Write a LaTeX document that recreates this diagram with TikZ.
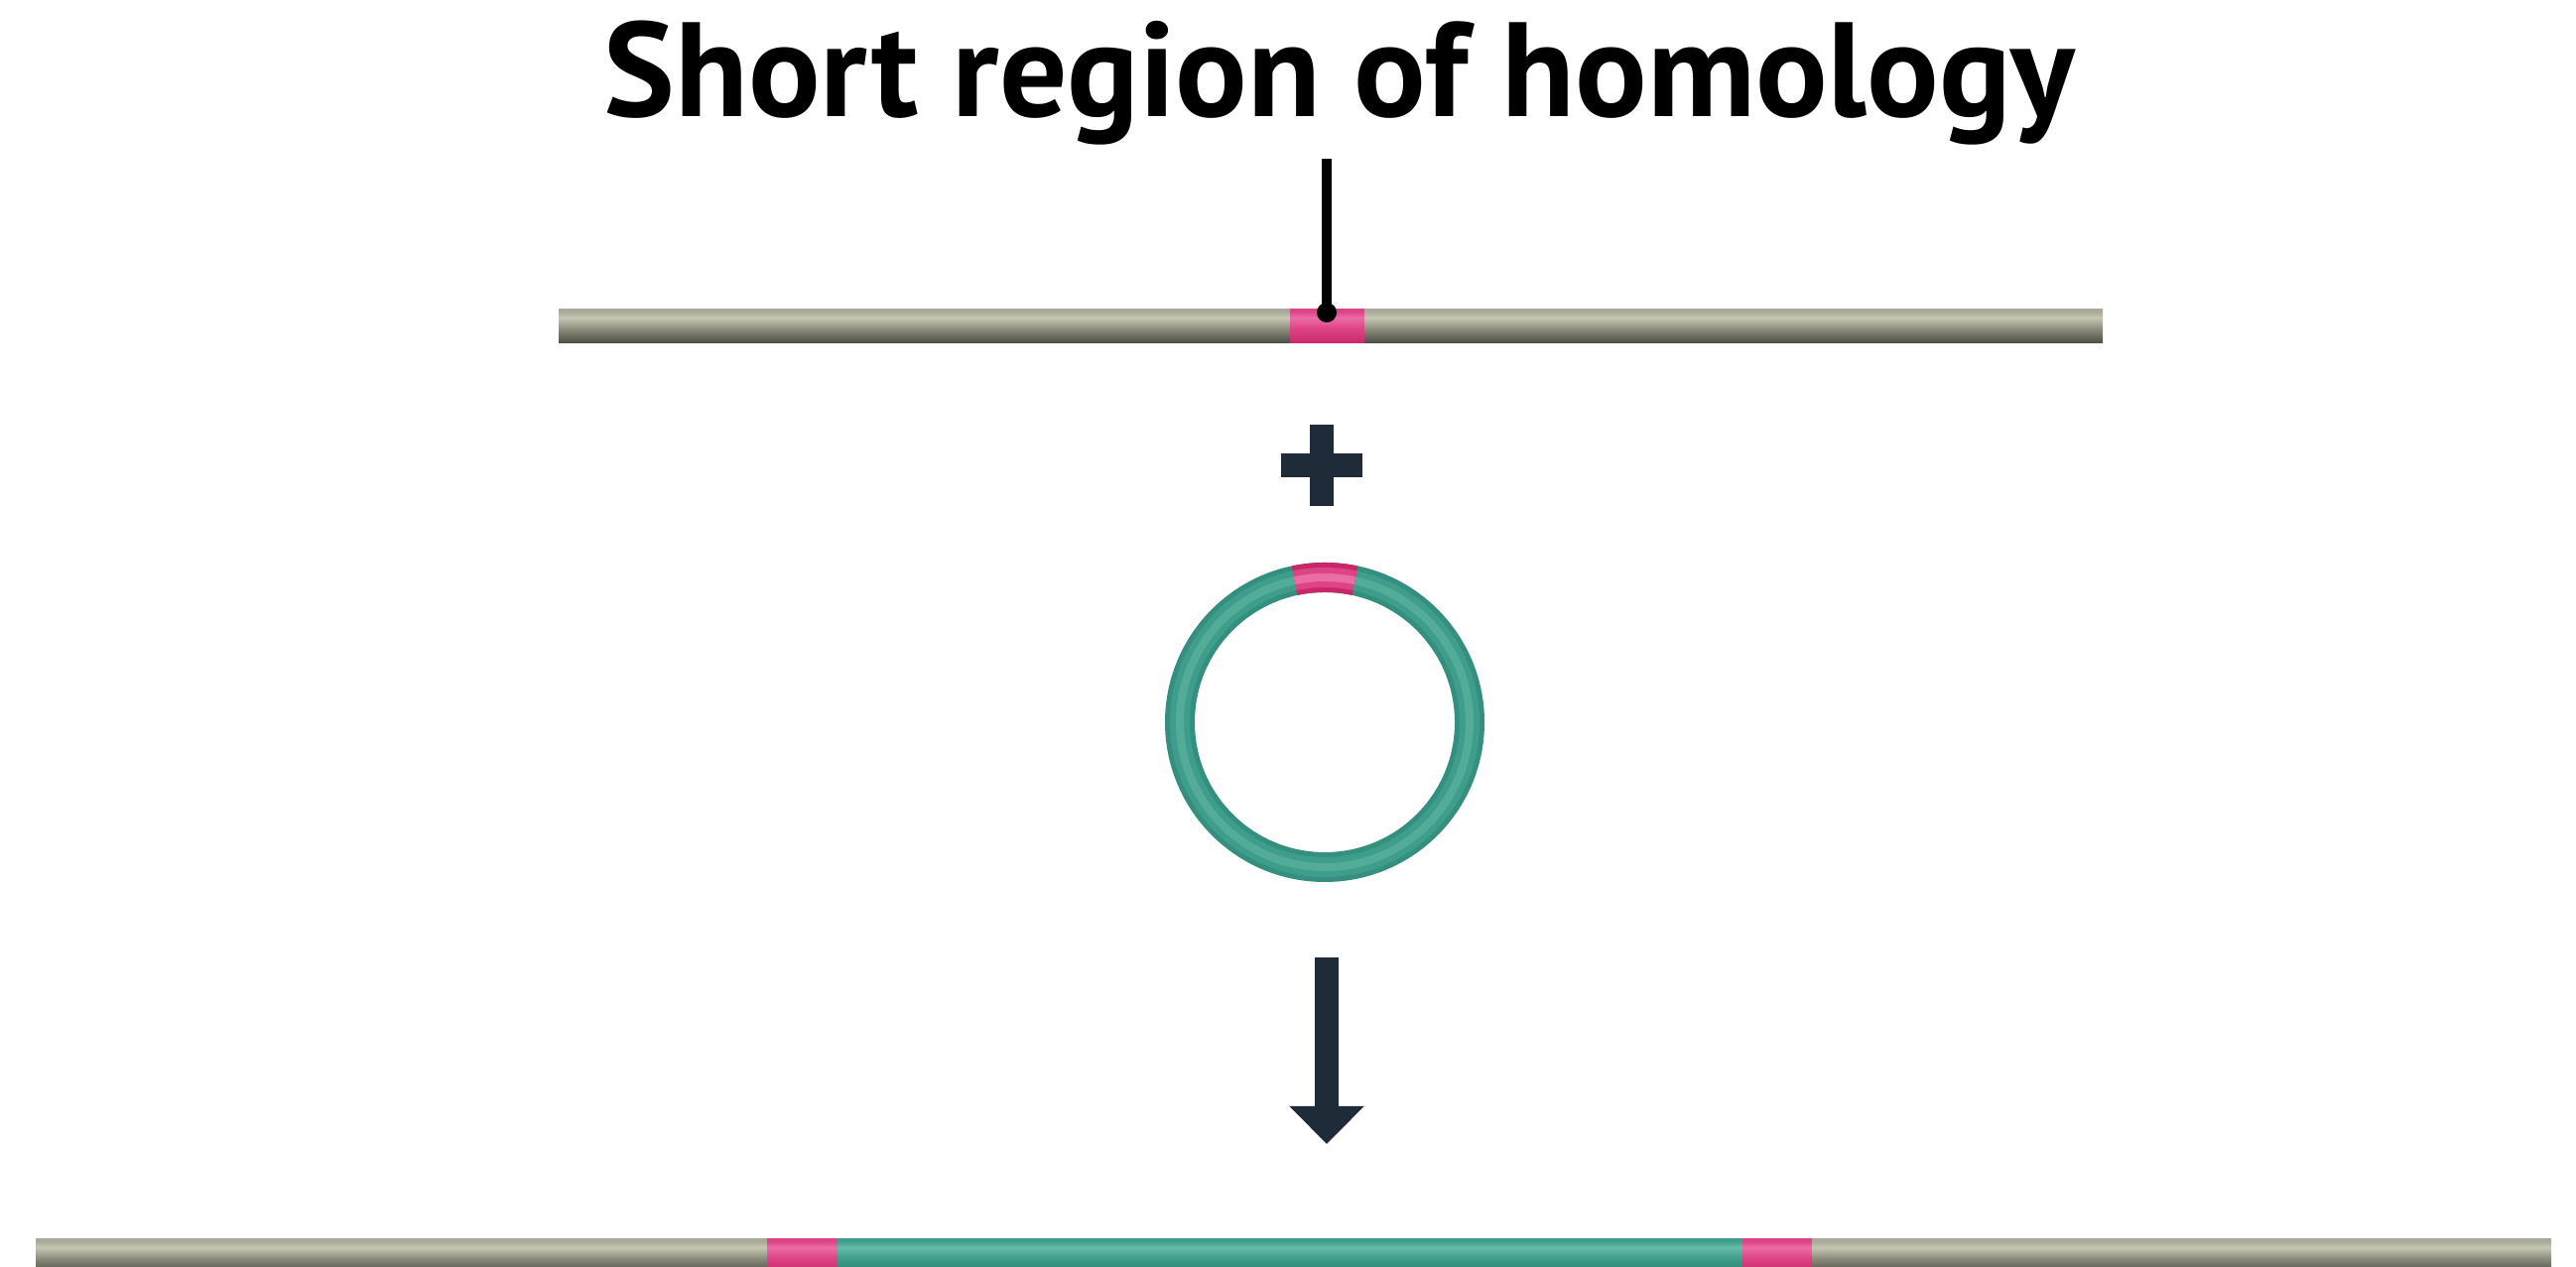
\documentclass[tikz,border=0pt]{standalone}
\usepackage{fontspec}
\setmainfont{PT Sans}
\usetikzlibrary{arrows.meta}

\definecolor{grayD}{HTML}{4B4D43}
\definecolor{grayM}{HTML}{8E8E7E}
\definecolor{grayL}{HTML}{C6C6B2}
\definecolor{grayT}{HTML}{A9AA99}
\definecolor{pinkD}{HTML}{C92868}
\definecolor{pinkM}{HTML}{DD4486}
\definecolor{pinkL}{HTML}{EC6CA4}
\definecolor{tealD}{HTML}{2D8271}
\definecolor{tealM}{HTML}{3F9E8B}
\definecolor{tealL}{HTML}{68BCA8}
\definecolor{ringD}{HTML}{348F7E}
\definecolor{ringL}{HTML}{52AC98}
\definecolor{navy}{HTML}{1F2B38}

\pgfdeclareverticalshading{graybar}{100bp}{color(0bp)=(grayD); color(25bp)=(grayD); color(47bp)=(grayM); color(63bp)=(grayL); color(72bp)=(grayT); color(100bp)=(grayT)}
\pgfdeclareverticalshading{pinkbar}{100bp}{color(0bp)=(pinkD); color(25bp)=(pinkD); color(47bp)=(pinkM); color(63bp)=(pinkL); color(72bp)=(pinkM); color(100bp)=(pinkM)}
\pgfdeclareverticalshading{tealbar}{100bp}{color(0bp)=(tealD); color(25bp)=(tealD); color(47bp)=(tealM); color(63bp)=(tealL); color(72bp)=(tealM); color(100bp)=(tealM)}

\begin{document}
\begin{tikzpicture}[>={Triangle[length=3.8mm,width=7.3mm]},
    dna/.style={shading=graybar},
    hom/.style={shading=pinkbar},
    vec/.style={shading=tealbar},
    ink/.style={fill=navy,draw=none}]
\clip (0,0) rectangle (25.96,12.77);

\node[font=\bfseries\fontsize{38.5}{42}\selectfont,anchor=base] (title) at (13.50,11.59) {Short region of homology};

% chromosome with the short homologous stretch
\shade[dna] (5.63,9.31) rectangle (13.00,9.65);
\shade[hom] (13.00,9.31) rectangle (13.75,9.65);
\shade[dna] (13.75,9.31) rectangle (21.19,9.65);
\coordinate (lead) at (13.37,11.17);
\coordinate (site) at (13.37,9.62);
\draw[line width=1mm] (lead) -- (site);
\fill (site) circle (1mm);

% plus
\coordinate (plus) at (13.32,8.08);
\fill[ink,shift={(plus)}] (-0.41,-0.12) rectangle (0.41,0.12);
\fill[ink,shift={(plus)}] (-0.12,-0.41) rectangle (0.12,0.41);

% circular vector with the same stretch on top
\coordinate (ring) at (13.35,5.49);
\foreach \w/\c in {3/ringD,2/tealM,0.8/ringL}
  \draw[line width=\w mm,\c] (ring) circle (1.46);
\foreach \w/\c in {3/pinkD,2/pinkM,0.8/pinkL}
  \draw[line width=\w mm,\c] ([shift={(78:1.46)}]ring) arc (78:102:1.46);

% arrow
\coordinate (arrtop) at (13.37,3.12);
\coordinate (arrtip) at (13.37,1.24);
\draw[->,line width=2.4mm,navy] (arrtop) -- (arrtip);

% integrated product
\shade[dna] (0.36,-0.06) rectangle (7.73,0.28);
\shade[hom] (7.73,-0.06) rectangle (8.44,0.28);
\shade[vec] (8.44,-0.06) rectangle (17.56,0.28);
\shade[hom] (17.56,-0.06) rectangle (18.26,0.28);
\shade[dna] (18.26,-0.06) rectangle (25.71,0.28);
\end{tikzpicture}
\end{document}
